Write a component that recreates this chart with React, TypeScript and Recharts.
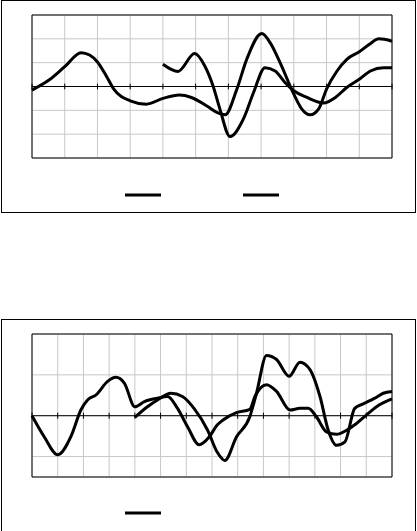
import React from 'react';
import {
  LineChart,
  Line,
  XAxis,
  YAxis,
  CartesianGrid,
  ReferenceLine,
  ReferenceArea,
  Legend,
} from 'recharts';

// top chart
const topXTicks = [0, 1, 2, 3, 4, 5, 6, 7, 8, 9, 10, 11];
const topYTicks = [-3, -2, -1, 0, 1, 2, 3];
const topAx = [0, 0.53, 1.0, 1.5, 1.76, 2.0, 2.27, 2.5, 3.0, 3.49, 4.0, 4.5, 4.87, 5.38, 5.68, 5.9, 6.26, 6.56, 7.02, 7.28, 7.58, 8.0, 8.24, 8.5, 8.76, 9.0, 9.32, 9.62, 10.0, 10.3, 10.6, 11];
const topAy = [-0.15, 0.28, 0.83, 1.42, 1.32, 1.03, 0.44, -0.11, -0.6, -0.74, -0.5, -0.36, -0.46, -0.85, -1.11, -1.19, -0.11, 1.14, 2.22, 1.83, 1.0, -0.32, -0.94, -1.19, -0.94, -0.11, 0.65, 1.14, 1.46, 1.76, 2.0, 1.9];
const topBx = [4.0, 4.46, 4.97, 5.28, 5.53, 5.74, 6.05, 6.46, 6.77, 7.12, 7.43, 7.73, 8.0, 8.4, 8.91, 9.27, 9.62, 10.0, 10.34, 10.74, 11];
const topBy = [0.93, 0.63, 1.38, 0.86, 0.03, -0.94, -2.1, -1.36, -0.25, 0.79, 0.65, 0.17, -0.18, -0.46, -0.69, -0.46, -0.04, 0.3, 0.65, 0.79, 0.79];

// bottom chart
const botXTicks = [0, 1, 2, 3, 4, 5, 6, 7, 8, 9, 10, 11, 12, 13, 14];
const botYTicks = [-3, -2, -1, 0, 1, 2, 3, 4];
const botCx = [0, 0.48, 1.0, 1.52, 1.9, 2.16, 2.49, 2.94, 3.26, 3.59, 4.0, 4.37, 4.88, 5.27, 5.66, 6.05, 6.5, 6.89, 7.2, 7.43, 7.95, 8.47, 8.67, 9.12, 9.51, 10.03, 10.42, 10.74, 11.06, 11.45, 11.84, 12.23, 12.62, 13.0, 13.4, 14];
const botCy = [0, -1.04, -1.91, -1.0, 0.28, 0.77, 1.02, 1.68, 1.88, 1.6, 0.44, 0.69, 0.86, 0.94, 0.36, -0.54, -1.42, -1.04, -0.46, -0.21, 0.15, 0.31, 0.94, 1.52, 1.19, 0.28, 0.36, 0.36, -0.05, -0.79, -0.91, -0.71, -0.38, 0.03, 0.44, 0.82];
const botDx = [4.0, 4.49, 4.88, 5.4, 5.85, 6.3, 6.83, 7.2, 7.5, 7.95, 8.47, 8.73, 9.12, 9.51, 10.0, 10.42, 10.81, 11.2, 11.52, 11.84, 12.17, 12.55, 12.88, 13.33, 13.66, 14];
const botDy = [-0.08, 0.44, 0.77, 1.1, 0.94, 0.36, -0.71, -1.78, -2.19, -1.04, -0.05, 1.1, 2.95, 2.75, 1.93, 2.62, 2.26, 0.94, -0.71, -1.45, -1.28, 0.36, 0.58, 0.86, 1.1, 1.19];

const zip = (xs: number[], ys: number[]) => xs.map((x, i) => ({ x, y: ys[i] }));

const LegendLines = ({ payload }: any) => (
  <div style={{ display: 'flex' }}>
    {(payload || [])
      .filter((p: any) => p.type !== 'none')
      .map((p: any, i: number) => (
        <svg key={i} width={36} height={4} style={{ marginRight: 82, display: 'block' }}>
          <line x1={0} y1={2} x2={36} y2={2} stroke="#000" strokeWidth={3} />
        </svg>
      ))}
  </div>
);

type PanelProps = {
  top: number;
  xTicks: number[];
  yTicks: number[];
  series: { x: number; y: number }[][];
  showInLegend: boolean[];
  tickHalf: number;
  legendTop: number;
};

function Panel({ top, xTicks, yTicks, series, showInLegend, tickHalf, legendTop }: PanelProps) {
  const xMax = xTicks[xTicks.length - 1];
  const yMin = yTicks[0];
  const yMax = yTicks[yTicks.length - 1];
  return (
    <div style={{ position: 'absolute', left: 0, top }}>
      <LineChart
        width={417}
        height={212}
        margin={{ top: 15, right: 25, bottom: 54, left: 32 }}
      >
        <CartesianGrid stroke="#c8c8c8" strokeWidth={1} />
        <XAxis type="number" dataKey="x" domain={[0, xMax]} ticks={xTicks} hide />
        <YAxis type="number" domain={[yMin, yMax]} ticks={yTicks} hide />
        <ReferenceArea
          x1={0}
          x2={xMax}
          y1={yMin}
          y2={yMax}
          fill="none"
          stroke="#000"
          strokeWidth={1}
        />
        <ReferenceLine y={0} stroke="#000" strokeWidth={1} />
        {xTicks.map((t) => (
          <ReferenceLine
            key={t}
            segment={[
              { x: t, y: -tickHalf },
              { x: t, y: tickHalf },
            ]}
            stroke="#000"
            strokeWidth={1}
          />
        ))}
        {series.map((d, i) => (
          <Line
            key={i}
            data={d}
            dataKey="y"
            type="monotone"
            stroke="#000"
            strokeWidth={3}
            dot={false}
            legendType={showInLegend[i] ? 'line' : 'none'}
            isAnimationActive={false}
          />
        ))}
        <Legend
          layout="horizontal"
          verticalAlign="middle"
          align="center"
          content={<LegendLines />}
          wrapperStyle={{ position: 'absolute', left: 125, top: legendTop, width: 'auto' }}
        />
      </LineChart>
    </div>
  );
}

export default function App() {
  return (
    <div
      style={{
        position: 'absolute',
        left: 0,
        top: 0,
        width: 417,
        height: 531,
        overflow: 'hidden',
        background: '#fff',
      }}
    >
      <div
        style={{
          position: 'absolute',
          left: 1,
          top: 0,
          width: 415,
          height: 213,
          border: '1px solid #000',
          boxSizing: 'border-box',
        }}
      />
      <div
        style={{
          position: 'absolute',
          left: 1,
          top: 319,
          width: 415,
          height: 240,
          border: '1px solid #000',
          boxSizing: 'border-box',
        }}
      />
      <Panel
        top={0}
        xTicks={topXTicks}
        yTicks={topYTicks}
        series={[zip(topAx, topAy), zip(topBx, topBy)]}
        showInLegend={[true, true]}
        tickHalf={0.12}
        legendTop={193}
      />
      <Panel
        top={319}
        xTicks={botXTicks}
        yTicks={botYTicks}
        series={[zip(botCx, botCy), zip(botDx, botDy)]}
        showInLegend={[true, false]}
        tickHalf={0.15}
        legendTop={192}
      />
    </div>
  );
}
